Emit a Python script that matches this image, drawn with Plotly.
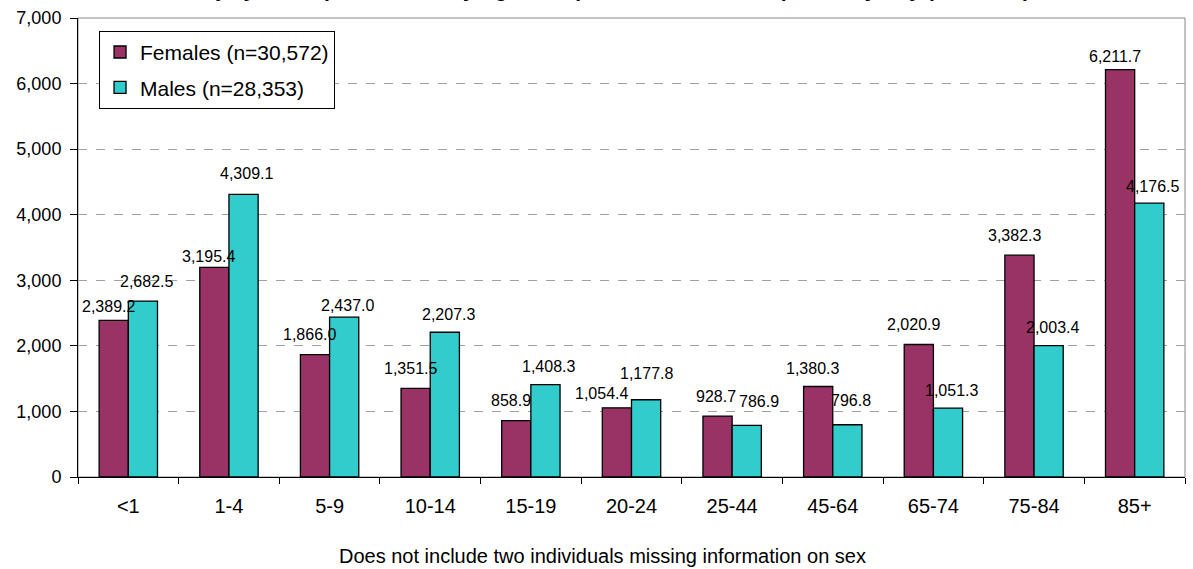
import plotly.graph_objects as go

categories = ["<1", "1-4", "5-9", "10-14", "15-19", "20-24", "25-44", "45-64", "65-74", "75-84", "85+"]
females = [2389.2, 3195.4, 1866.0, 1351.5, 858.9, 1054.4, 928.7, 1380.3, 2020.9, 3382.3, 6211.7]
males = [2682.5, 4309.1, 2437.0, 2207.3, 1408.3, 1177.8, 786.9, 796.8, 1051.3, 2003.4, 4176.5]
y_ticks = [0, 1000, 2000, 3000, 4000, 5000, 6000, 7000]

# label placement (pixel offsets from bar top / category centre), style only
label_dy_f = [14, 11, 20, 20, 20, 14, 20, 18, 20, 20, 13]
label_dy_m = [20, 21, 12, 18, 18, 26, 24, 24, 18, 18, 17]
label_dx_f = [-20, -20, -20, -20, -20, -30, -16, -20, -20, -20, -20]
label_dx_m = [18, 18, 18, 18, 18, 15, 27, 18, 18, 18, 18]

FONT = "Liberation Sans, Arial, sans-serif"

fig = go.Figure()
fig.add_trace(go.Bar(
    x=categories, y=females, name="Females (n=30,572)", legendgroup="f",
    marker=dict(color="#993366", line=dict(color="black", width=1.3)),
))
fig.add_trace(go.Bar(
    x=categories, y=males, name="Males (n=28,353)", legendgroup="m",
    marker=dict(color="#33CCCC", line=dict(color="black", width=1.3)),
))

# data labels above each bar
for vals, dxs, dys in ((females, label_dx_f, label_dy_f), (males, label_dx_m, label_dy_m)):
    for c, v, dx, dy in zip(categories, vals, dxs, dys):
        fig.add_annotation(
            x=c, y=v, xref="x", yref="y", text=f"{v:,.1f}", showarrow=False,
            xanchor="center", yanchor="middle", xshift=dx, yshift=dy,
            font=dict(size=16, family=FONT, color="black"),
        )

fig.update_layout(
    width=1193, height=569,
    paper_bgcolor="white", plot_bgcolor="white",
    font=dict(family=FONT, color="black"),
    margin=dict(l=78, r=8, t=15, b=92),
    barmode="group", bargap=0.42, bargroupgap=0,
    legend=dict(
        x=0.019, y=0.972, xanchor="left", yanchor="top",
        bgcolor="white", bordercolor="black", borderwidth=1,
        font=dict(size=21, family=FONT), tracegroupgap=5,
    ),
)

fig.update_xaxes(
    showline=True, linecolor="black", linewidth=1,
    ticks="outside", tickcolor="black", ticklen=6, tickson="boundaries",
    tickfont=dict(size=20, family=FONT), ticklabelstandoff=11, showgrid=False,
)
fig.update_yaxes(
    range=[0, 7000], tickvals=y_ticks, tickformat=",",
    showline=True, linecolor="black", linewidth=1,
    ticks="outside", tickcolor="black", ticklen=7, ticklabelstandoff=5,
    tickfont=dict(size=18, family=FONT),
    showgrid=True, gridcolor="#a0a0a0", griddash="dash", gridwidth=1,
    zeroline=False,
)

# plot area border (top and right) in gray
fig.add_shape(type="rect", xref="paper", yref="paper", x0=0, x1=1, y0=0, y1=1,
              line=dict(color="#888888", width=1), layer="below")

# chart title (cut off at the top edge as in the reference)
fig.add_annotation(
    text="<b>Injury Rates per 100,000, by Age Group and Sex, Cases Reported by Day (n=58,927)</b>",
    xref="paper", yref="paper", x=0.862, y=1.033, xanchor="right", yanchor="bottom",
    showarrow=False, font=dict(size=21, family=FONT, color="black"),
)

fig.add_annotation(
    text="Does not include two individuals missing information on sex",
    xref="paper", yref="paper", x=0.474, y=-0.173, xanchor="center", yanchor="middle",
    showarrow=False, font=dict(size=20, family=FONT, color="black"),
)

fig.write_html("out.html", config={"displayModeBar": False},
               post_script="document.body.style.margin='0px';")
